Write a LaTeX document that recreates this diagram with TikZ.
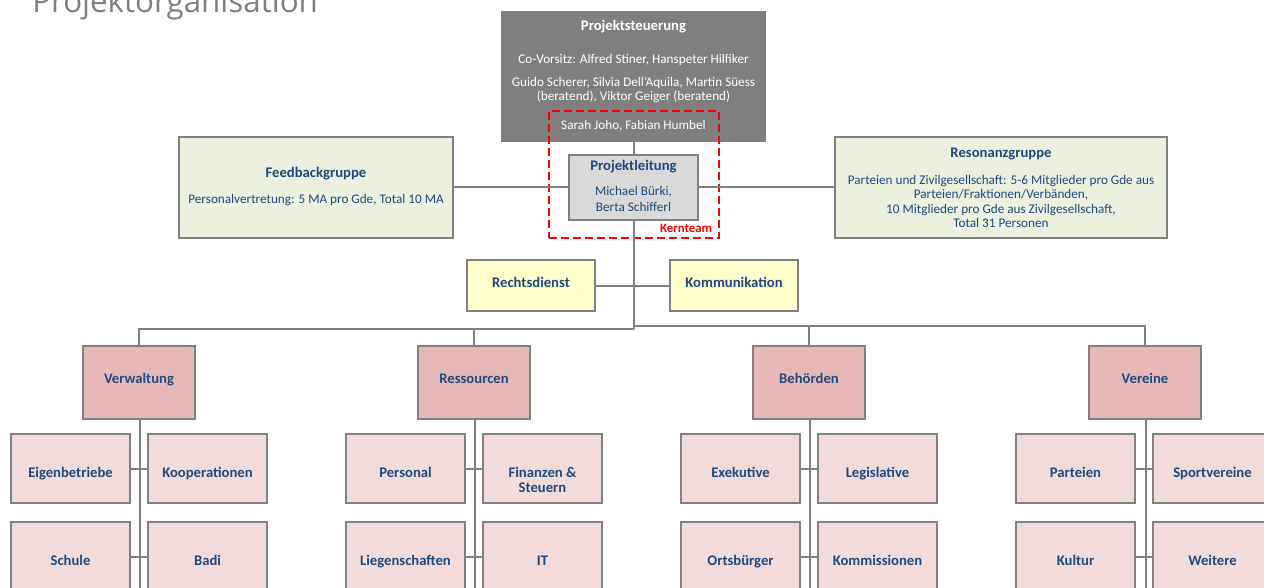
\documentclass[tikz,border=0pt]{standalone}
\usepackage{fontspec}
\setmainfont{Carlito}
\newfontfamily\titlefont{Open Sans}
\usetikzlibrary{fit,calc}
\definecolor{lgrey}{HTML}{808080}
\definecolor{dgrey}{HTML}{7F7F7F}
\definecolor{plgrey}{HTML}{D9D9D9}
\definecolor{tblue}{HTML}{1F497D}
\definecolor{gfill}{HTML}{EBF1DE}
\definecolor{yfill}{HTML}{FFFFCC}
\definecolor{cfill}{HTML}{E6B9B8}
\definecolor{sfill}{HTML}{F2DCDB}
\definecolor{kred}{HTML}{FF0000}
\newcommand{\fs}{\fontsize{9.9pt}{11.5pt}\selectfont}
\newcommand{\fh}{\fontsize{11pt}{11.7pt}\selectfont}
\tikzset{
  box/.style={draw=lgrey, line width=1.9pt, inner sep=0pt, font=\bfseries\fh, text=tblue, align=center},
  conn/.style={draw=lgrey, line width=1.5pt},
  txt/.style={font=\fs, text=tblue, inner sep=0pt, anchor=base},
  head/.style={txt, font=\bfseries\fh},
  cat/.style={box, fill=cfill, minimum width=84pt, minimum height=54.75pt, text height=2pt, text depth=0pt},
  sub/.style={box, fill=sfill, minimum width=89.25pt, minimum height=51.75pt, text height=13pt, text depth=0pt},
  stab/.style={box, fill=yfill, minimum width=96pt, minimum height=38.25pt, text height=2.6pt, text depth=0pt},
}
\begin{document}
\begin{tikzpicture}[x=0.75pt,y=-0.75pt]
\useasboundingbox (0,0) rectangle (1264,588);
\clip (0,0) rectangle (1264,588);
% title
\node[font=\titlefont\fontsize{23.5pt}{28pt}\selectfont, text=dgrey, anchor=base west, inner sep=0pt] (title) at (32,12.7) {Projektorganisation};

% Projektsteuerung
\node[box, fill=dgrey, draw=lgrey, fit={(502,12) (765,141)}] (ps) {};
\node[head, text=white] (ps1) at (633.5,31) {Projektsteuerung};
\node[txt, text=white] (ps2) at (633.5,64) {Co-Vorsitz: Alfred Stiner, Hanspeter Hilfiker};
\node[txt, text=white] (ps3) at (633.5,86.5) {Guido Scherer, Silvia Dell'Aquila, Martin Süess};
\node[txt, text=white] (ps4) at (633.5,101) {(beratend), Viktor Geiger (beratend)};
\node[txt, text=white] (ps5) at (633.5,130) {Sarah Joho, Fabian Humbel};

% Projektleitung
\node[box, fill=plgrey, fit={(569,155) (698,220)}] (pl) {};
\node[head] (pl1) at (633.5,171) {Projektleitung};
\node[txt] (pl2) at (633.5,196) {Michael Bürki,};
\node[txt] (pl3) at (633.5,212) {Berta Schifferl};

% Kernteam
\node[draw=kred, line width=1.5pt, dash pattern=on 6pt off 3pt, inner sep=0pt, fit={(549,111) (719,238)}] (kt) {};
\node[txt, text=kred, font=\bfseries\fontsize{9.6pt}{11pt}\selectfont] (ktl) at (686,232.5) {Kernteam};

% Feedbackgruppe
\node[box, fill=gfill, fit={(179,137) (453,238)}] (fb) {};
\node[head] (fb1) at (316,178) {Feedbackgruppe};
\node[txt] (fb2) at (316,204) {Personalvertretung: 5 MA pro Gde, Total 10 MA};

% Resonanzgruppe
\node[box, fill=gfill, fit={(835,137) (1167,238)}] (rg) {};
\node[head] (rg1) at (1001,157.5) {Resonanzgruppe};
\node[txt] (rg2) at (1001,184.7) {Parteien und Zivilgesellschaft: 5-6 Mitglieder pro Gde aus};
\node[txt] (rg3) at (1001,198.9) {Parteien/Fraktionen/Verbänden,};
\node[txt] (rg4) at (1001,213.1) {10 Mitglieder pro Gde aus Zivilgesellschaft,};
\node[txt] (rg5) at (1001,227.3) {Total 31 Personen};

% Stab
\node[stab] (rd) at (531,285.5) {Rechtsdienst};
\node[stab] (ko) at (734,285.5) {Kommunikation};

% connectors top
\draw[conn] (ps.south) -- (pl.north);
\draw[conn] (fb.east) -- (pl.west);
\draw[conn] (pl.east) -- (rg.west);
\draw[conn] (rd.east) -- (ko.west);
\coordinate (busL) at (633.5,329);
\coordinate (busR) at (633.5,326);
\draw[conn] (pl.south) -- (busL);

% categories
\node[cat] (c1) at (139,382.5) {Verwaltung};
\node[cat] (c2) at (474,382.5) {Ressourcen};
\node[cat] (c3) at (809,382.5) {Behörden};
\node[cat] (c4) at (1145,382.5) {Vereine};
\draw[conn] (c1.north) |- (busL);
\draw[conn] (busR) -| (c4.north);
\draw[conn] (c2.north) -- (c2.north |- busL);
\draw[conn] (c3.north) -- (c3.north |- busR);

% sub boxes
\node[sub] (s11) at (70.5,468.5) {Eigenbetriebe};
\node[sub] (s12) at (207.5,468.5) {Kooperationen};
\node[sub] (s13) at (70.5,556.5) {Schule};
\node[sub] (s14) at (207.5,556.5) {Badi};

\node[sub] (s21) at (405.5,468.5) {Personal};
\node[sub, text height=36.4pt] (s22) at (542.5,468.5) {Finanzen \&\\Steuern};
\node[sub] (s23) at (405.5,556.5) {Liegenschaften};
\node[sub] (s24) at (542.5,556.5) {IT};

\node[sub] (s31) at (740.5,468.5) {Exekutive};
\node[sub] (s32) at (877.5,468.5) {Legislative};
\node[sub] (s33) at (740.5,556.5) {Ortsbürger};
\node[sub] (s34) at (877.5,556.5) {Kommissionen};

\node[sub] (s41) at (1075.5,468.5) {Parteien};
\node[sub] (s42) at (1212.5,468.5) {Sportvereine};
\node[sub] (s43) at (1075.5,556.5) {Kultur};
\node[sub] (s44) at (1212.5,556.5) {Weitere};

\foreach \c/\a/\b/\d/\e in {c1/s11/s12/s13/s14, c2/s21/s22/s23/s24, c3/s31/s32/s33/s34, c4/s41/s42/s43/s44}{
  \coordinate (\c-end) at ($(\c.south)+(1,200)$);
  \draw[conn] ($(\c.south)+(1,0)$) -- (\c-end);
  \draw[conn] (\a.east) -- (\b.west);
  \draw[conn] (\d.east) -- (\e.west);
}
\end{tikzpicture}
\end{document}
